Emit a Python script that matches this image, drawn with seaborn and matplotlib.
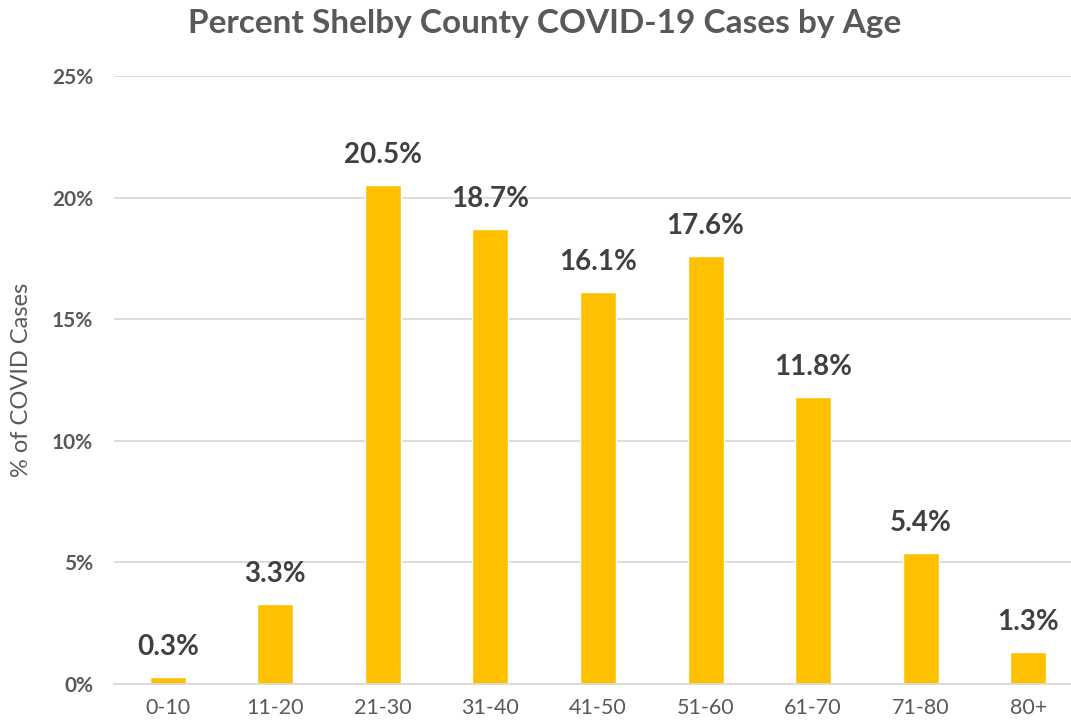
import matplotlib
matplotlib.use("Agg")
import matplotlib.pyplot as plt
import seaborn as sns
import pandas as pd
from matplotlib.ticker import FuncFormatter

age_groups = ["0-10", "11-20", "21-30", "31-40", "41-50", "51-60", "61-70", "71-80", "80+"]
pct_cases = [0.3, 3.3, 20.5, 18.7, 16.1, 17.6, 11.8, 5.4, 1.3]
y_ticks = [0, 5, 10, 15, 20, 25]

df = pd.DataFrame({"age": age_groups, "pct": pct_cases})

sns.set_theme(style="white")
plt.rcParams["font.family"] = ["Lato", "DejaVu Sans"]

fig = plt.figure(figsize=(10.71, 7.26), dpi=100)
ax = fig.add_axes([114 / 1071, 1 - 684 / 726, 968 / 1071, (684 - 76) / 726])

sns.barplot(data=df, x="age", y="pct", color="#FFC000", saturation=1,
            width=0.335, ax=ax)

ax.set_ylim(0, 25)
ax.set_xlim(-0.5, len(age_groups) - 0.5)
ax.set_yticks(y_ticks)
ax.yaxis.set_major_formatter(FuncFormatter(lambda v, _: f"{v:.0f}%"))
ax.grid(axis="y", color="#D9D9D9", linewidth=1.3)
ax.set_axisbelow(True)
for side in ["top", "right", "left"]:
    ax.spines[side].set_visible(False)
ax.spines["bottom"].set_color("#D9D9D9")
ax.spines["bottom"].set_linewidth(1.3)
ax.tick_params(axis="both", length=0)
ax.tick_params(axis="y", pad=15, labelsize=15, labelcolor="#595959")
ax.tick_params(axis="x", pad=10, labelsize=15.5, labelcolor="#595959")
for lbl in ax.get_yticklabels():
    lbl.set_fontweight("bold")

ax.set_xlabel("")
ax.set_ylabel("% of COVID Cases", fontsize=17, color="#595959")
ax.yaxis.set_label_coords(-0.085, 0.5)

for i, v in enumerate(pct_cases):
    ax.text(i, v + 0.7, f"{v:.1f}%", ha="center", va="bottom",
            fontsize=20, fontweight="bold", color="#404040")

fig.text(545 / 1071, 1 - 24 / 726, "Percent Shelby County COVID-19 Cases by Age",
         ha="center", va="center", fontsize=24, fontweight="bold", color="#595959")

fig.savefig("out.png", dpi=100)
